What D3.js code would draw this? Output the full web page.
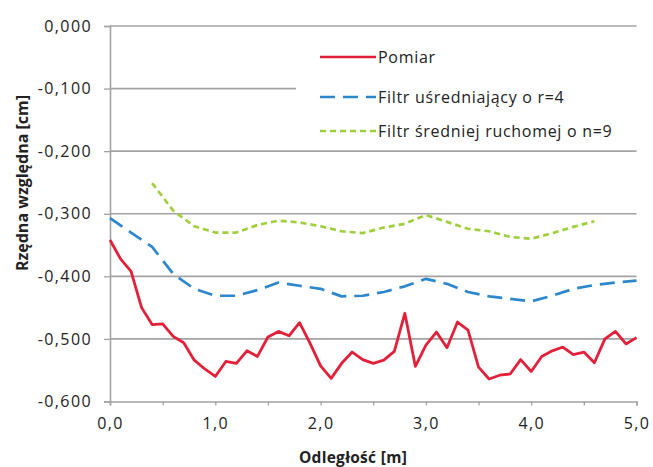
<!DOCTYPE html>
<html>
<head>
<meta charset="utf-8">
<script src="https://cdn.jsdelivr.net/npm/d3@7"></script>
<style>
  body { margin: 0; background: #fff; }
  svg text { font-family: "Open Sans", "Liberation Sans", sans-serif; fill: #222; }
</style>
</head>
<body>
<svg id="chart" width="653" height="467"></svg>
<script>
// ---- data ----
const pomiarX = d3.range(0, 51).map(i => +(i * 0.1).toFixed(1));
const pomiar = [-0.342, -0.372, -0.392, -0.450, -0.477, -0.476, -0.496, -0.506, -0.534, -0.548,
  -0.560, -0.536, -0.539, -0.519, -0.528, -0.497, -0.488, -0.495, -0.474, -0.507,
  -0.543, -0.563, -0.539, -0.521, -0.533, -0.539, -0.534, -0.520, -0.459, -0.544,
  -0.510, -0.489, -0.514, -0.473, -0.486, -0.545, -0.564, -0.558, -0.556, -0.533,
  -0.552, -0.528, -0.519, -0.513, -0.525, -0.521, -0.538, -0.500, -0.488, -0.508, -0.498];

const sredniX = d3.range(0, 26).map(i => +(i * 0.2).toFixed(1));
const sredni = [-0.307, -0.330, -0.353, -0.396, -0.420, -0.431, -0.431, -0.422, -0.410, -0.415,
  -0.420, -0.432, -0.431, -0.425, -0.416, -0.404, -0.412, -0.425, -0.432, -0.436,
  -0.440, -0.431, -0.420, -0.414, -0.410, -0.407];

const ruchomaX = d3.range(2, 24).map(i => +(i * 0.2).toFixed(1));
const ruchoma = [-0.251, -0.295, -0.320, -0.330, -0.330, -0.318, -0.311, -0.314, -0.320, -0.328,
  -0.331, -0.322, -0.316, -0.302, -0.313, -0.324, -0.328, -0.337, -0.340, -0.331, -0.321, -0.312];

const seriesNames = ["Pomiar", "Filtr uśredniający o r=4", "Filtr średniej ruchomej o n=9"];
const yTicks = [0, -0.1, -0.2, -0.3, -0.4, -0.5, -0.6];
const xTicks = [0, 1, 2, 3, 4, 5];
const xMinorTicks = [0, 0.5, 1, 1.5, 2, 2.5, 3, 3.5, 4, 4.5, 5];
const xTitle = "Odległość [m]";
const yTitle = "Rzędna względna [cm]";

// ---- chart ----
const svg = d3.select("#chart");
const x = d3.scaleLinear().domain([0, 5]).range([110, 636.5]);
const y = d3.scaleLinear().domain([-0.6, 0]).range([401.5, 26]);
const fmtY = v => d3.format(".3f")(v).replace(".", ",").replace("−", "-");
const fmtX = v => d3.format(".1f")(v).replace(".", ",");

// gridlines
svg.append("g").selectAll("line").data(yTicks.filter(t => t !== -0.6)).join("line")
  .attr("x1", x(0)).attr("x2", x(5))
  .attr("y1", d => y(d)).attr("y2", d => y(d))
  .attr("stroke", "#a3a3a3").attr("stroke-width", 1.6);

// y axis
const yAxis = d3.axisLeft(y).tickValues(yTicks).tickSize(6).tickFormat(fmtY).tickPadding(12);
const gy = svg.append("g").attr("transform", `translate(${x(0)},0)`).call(yAxis);
gy.select(".domain").attr("stroke", "#a3a3a3").attr("stroke-width", 1.6);
gy.selectAll(".tick line").attr("stroke", "#a3a3a3").attr("stroke-width", 1.3);
gy.selectAll(".tick text").attr("font-size", 16).attr("fill", "#222").style("letter-spacing", "1.4px");

// x axis
const xAxisMinor = d3.axisBottom(x).tickValues(xMinorTicks).tickSize(4).tickFormat("");
const gxm = svg.append("g").attr("transform", `translate(0,${y(-0.6)})`).call(xAxisMinor);
gxm.select(".domain").attr("stroke", "#a3a3a3").attr("stroke-width", 1.6);
gxm.selectAll(".tick line").attr("stroke", "#a3a3a3").attr("stroke-width", 1.3);

const xAxis = d3.axisBottom(x).tickValues(xTicks).tickSize(0).tickFormat(fmtX).tickPadding(16);
const gx = svg.append("g").attr("transform", `translate(0,${y(-0.6)})`).call(xAxis);
gx.select(".domain").remove();
gx.selectAll(".tick text").attr("font-size", 16).attr("fill", "#222").style("letter-spacing", "1.4px");

// axis titles
svg.append("text").attr("x", 353).attr("y", 463).attr("text-anchor", "middle")
  .attr("font-size", 15.5).attr("font-weight", "bold").style("letter-spacing", "0.3px").text(xTitle);
svg.append("text").attr("transform", "translate(28,183) rotate(-90)").attr("text-anchor", "middle")
  .attr("font-size", 16).attr("font-weight", "bold").style("letter-spacing", "0px").text(yTitle);

// legend background (covers part of gridline)
svg.append("rect").attr("x", 296).attr("y", 40).attr("width", 345).attr("height", 104).attr("fill", "#fff");

// lines
const line = d3.line().x(d => x(d[0])).y(d => y(d[1]));
const series = [
  { xs: ruchomaX, ys: ruchoma, color: "#9fd03c", dash: "6,4", width: 2.7 },
  { xs: sredniX, ys: sredni, color: "#2c87cc", dash: "15,8", width: 2.7 },
  { xs: pomiarX, ys: pomiar, color: "#e3203a", dash: null, width: 2.8 }
];
series.forEach(s => {
  svg.append("path").datum(s.xs.map((v, i) => [v, s.ys[i]]))
    .attr("d", line).attr("fill", "none")
    .attr("stroke", s.color).attr("stroke-width", s.width)
    .attr("stroke-dasharray", s.dash).attr("stroke-linejoin", "round");
});

// legend
const legendItems = [
  { name: seriesNames[0], color: "#e3203a", dash: null, y: 57 },
  { name: seriesNames[1], color: "#2c87cc", dash: "15,8", y: 97 },
  { name: seriesNames[2], color: "#9fd03c", dash: "6,4", y: 131 }
];
const lg = svg.append("g");
legendItems.forEach(it => {
  lg.append("line").attr("x1", 320).attr("x2", 376).attr("y1", it.y).attr("y2", it.y)
    .attr("stroke", it.color).attr("stroke-width", 2.7).attr("stroke-dasharray", it.dash);
  lg.append("text").attr("x", 378).attr("y", it.y).attr("dy", "0.35em")
    .attr("font-size", 16).attr("fill", "#222").style("letter-spacing", "0.7px").text(it.name);
});
</script>
</body>
</html>
